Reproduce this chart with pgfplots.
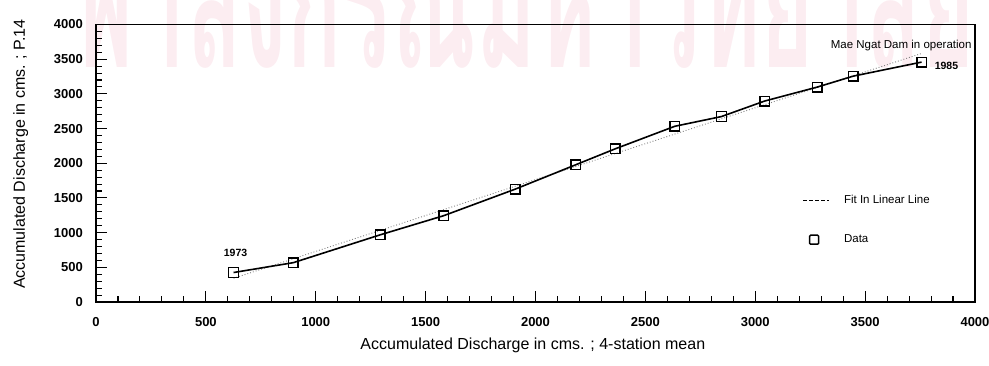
\documentclass[border=0pt]{standalone}
\usepackage{pgfplots}
\usepackage{pgfplotstable}
\pgfplotsset{compat=1.18}
\usepackage{fontspec}
\setmainfont{Liberation Sans}
\newfontfamily\thaifont[Script=Thai]{Loma}
\definecolor{wmpink}{RGB}{252,237,241}

% accumulated discharge, one point per year (1973 ... 1985)
\pgfplotstableread{
x    y
626  425
898  567
1293 968
1582 1244
1907 1626
2183 1978
2362 2207
2634 2533
2846 2673
3043 2897
3281 3097
3445 3255
3757 3458
}\massdata

% least-squares straight line through the points
\pgfplotstableread{
x    y
626  342
3757 3583
}\fitdata

\begin{document}
\begin{tikzpicture}
% faint library stamp behind the chart
\node[overlay, anchor=base east, inner sep=0pt, text=wmpink,
      font=\thaifont\bfseries\fontsize{185}{185}\selectfont, xscale=0.495]
      at (879pt,235pt) {ฬาลงกรณ์มหาวิทยาลัย};

\begin{axis}[
  scale only axis, width=879pt, height=277.5pt,
  xmin=0, xmax=4000, ymin=0, ymax=4000,
  xtick={0,500,...,4000}, ytick={0,500,...,4000},
  minor tick num=4,
  tick align=inside, tick pos=left,
  major tick length=11pt, minor tick length=6pt,
  tick style={black, line width=1.1pt},
  axis line style={line width=1.6pt},
  /pgf/number format/assume math mode=true,
  /pgf/number format/1000 sep={},
  ticklabel style={font=\bfseries\fontsize{13}{13}\selectfont},
  xticklabel style={anchor=north, inner sep=0pt, yshift=-15pt},
  yticklabel style={anchor=east, inner sep=0pt, xshift=-13pt},
  xlabel={Accumulated Discharge in cms. ; 4-station mean},
  ylabel={Accumulated Discharge in cms. ; P.14},
  label style={font=\fontsize{16}{16}\selectfont},
  xlabel style={at={(axis description cs:0.497,-0.1694)}, anchor=base},
  ylabel style={at={(axis description cs:-0.0808,0.533)}, anchor=base},
  legend style={at={(axis cs:3213,1536)}, anchor=north west,
    draw=none, fill=none, inner sep=0pt, row sep=29pt,
    font=\fontsize{11.5}{11.5}\selectfont,
    nodes={inner sep=0pt},
    /tikz/every odd column/.append style={column sep=14pt}},
  legend cell align=left,
]
\addplot[forget plot, gray, line width=0.9pt, dotted] table[x=x,y=y] {\fitdata};
\addplot[forget plot, black, line width=1.6pt, mark=square, mark size=4.8pt,
         mark options={line width=1.4pt, fill=none}] table[x=x,y=y] {\massdata};

\addlegendimage{legend image code/.code={
  \draw[black, line width=1.8pt, dash pattern=on 4pt off 2pt] (0pt,0pt) -- (26pt,0pt);}}
\addlegendentry{Fit In Linear Line}
\addlegendimage{legend image code/.code={
  \path[draw=none] (0pt,0pt) -- (26pt,0pt);
  \draw[black, line width=1.5pt, rounded corners=1pt] (6.5pt,-4.5pt) rectangle (15.5pt,4.5pt);}}
\addlegendentry{Data}

\node[anchor=south, inner sep=0pt, xshift=2pt, yshift=16pt,
      font=\bfseries\fontsize{10.5}{10.5}\selectfont] at (axis cs:626,425) {1973};
\node[anchor=west, inner sep=0pt, xshift=13pt, yshift=-4pt,
      font=\bfseries\fontsize{10.5}{10.5}\selectfont] at (axis cs:3757,3458) {1985};
\node[anchor=base east, inner sep=0pt,
      font=\fontsize{11.5}{11.5}\selectfont] at (axis cs:3985,3647) {Mae Ngat Dam in operation};
\end{axis}

\pgfresetboundingbox
\path (-96pt,-63pt) rectangle (893pt,302pt);
\end{tikzpicture}
\end{document}
